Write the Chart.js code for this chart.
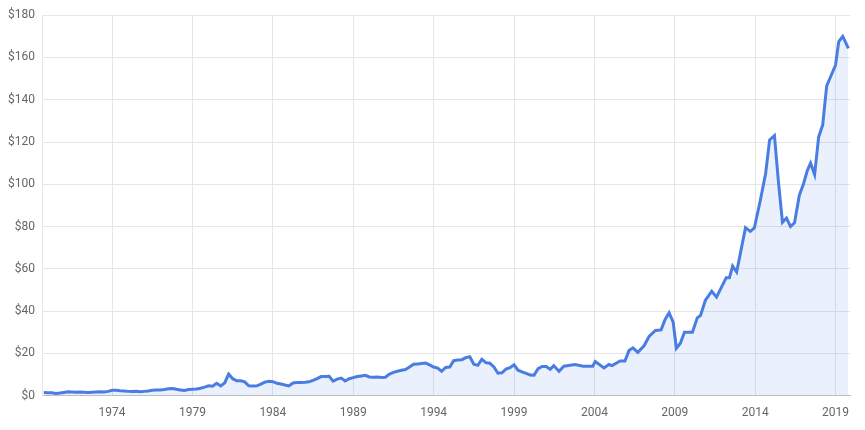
<!DOCTYPE html>
<html><head><meta charset="utf-8">
<script src="https://cdn.jsdelivr.net/npm/chart.js@4/dist/chart.umd.min.js"></script>
<style>html,body{margin:0;padding:0;background:#fff}#w{width:865px;height:430px}</style>
</head><body><div id="w"><canvas id="c"></canvas></div>
<script>
const years = [1969.75,
1970,1970.25,1970.5,1970.75,1971,1971.25,1971.5,1971.75,1972,1972.25,1972.5,1972.75,
1973,1973.25,1973.5,1973.75,1974,1974.25,1974.5,1974.75,1975,1975.25,1975.5,1975.75,
1976,1976.25,1976.5,1976.75,1977,1977.25,1977.5,1977.75,1978,1978.25,1978.5,1978.75,
1979,1979.25,1979.5,1979.75,1980,1980.25,1980.5,1980.75,1981,1981.25,1981.5,1981.75,
1982,1982.25,1982.5,1982.75,1983,1983.25,1983.5,1983.75,1984,1984.25,1984.5,1984.75,
1985,1985.25,1985.5,1985.75,1986,1986.25,1986.5,1986.75,1987,1987.25,1987.5,1987.75,
1988,1988.25,1988.5,1988.75,1989,1989.25,1989.5,1989.75,1990,1990.25,1990.5,1990.75,
1991,1991.25,1991.5,1991.75,1992,1992.25,1992.5,1992.75,1993,1993.25,1993.5,1993.75,
1994,1994.25,1994.5,1994.75,1995,1995.25,1995.5,1995.75,1996,1996.25,1996.5,1996.75,
1997,1997.25,1997.5,1997.75,1998,1998.25,1998.5,1998.75,1999,1999.25,1999.5,1999.75,
2000,2000.25,2000.5,2000.75,2001,2001.25,
2001.47,2001.8,2002.1,2002.8,2003.3,2003.9,2004.05,2004.6,2004.9,2005.1,2005.6,2005.9,
2006.15,2006.4,2006.7,2007.1,2007.4,2007.8,2008.15,2008.4,2008.65,2008.9,2009.1,2009.35,
2009.6,2010.1,2010.4,2010.6,2010.9,2011.3,2011.6,2012.2,2012.4,2012.6,2012.85,2013.1,
2013.4,2013.7,2013.95,2014.3,2014.65,2014.9,2015.2,2015.45,2015.7,2015.95,2016.2,2016.45,
2016.75,2017,2017.25,2017.45,2017.7,2017.95,2018.2,2018.45,2018.7,2019,2019.2,2019.45,2019.8];
const prices = [1.5,
1.4,1.3,1.0,1.2, 1.5,1.8,1.7,1.6, 1.7,1.6,1.5,1.6,
1.7,1.8,1.7,2.0, 2.5,2.5,2.3,2.2, 2.0,1.9,2.1,1.8,
2.0,2.2,2.5,2.6, 2.7,2.9,3.2,3.3, 3.0,2.7,2.4,2.9,
3.0,3.1,3.5,4.0, 4.6,4.4,5.8,4.6, 6.0,10.2,8.0,7.0,
7.0,6.5,4.6,4.5, 4.6,5.4,6.4,6.8, 6.6,5.8,5.5,5.0,
4.6,6.0,6.2,6.2, 6.3,6.5,7.2,8.0, 9.0,9.0,9.1,6.8,
7.8,8.3,6.9,8.0, 8.5,9.0,9.3,9.6, 8.8,8.7,8.8,8.6,
8.7,10.2,11.0,11.5, 12.0,12.3,13.5,14.8, 15.0,15.2,15.4,14.5,
13.5,13.0,11.5,13.3, 13.5,16.5,16.8,17.0, 18.0,18.4,14.8,14.3,
17.2,15.6,15.3,13.6, 10.6,10.8,12.5,13.2, 14.6,12.0,11.2,10.5,
9.8,9.7,12.8,13.8, 13.8,12.5,
14.2,11.5,13.9,14.7,13.9,13.9,16.1,13.1,14.7,14.2,16.4,16.4,
21.3,22.6,20.5,23.7,28,30.8,31.1,36,39.2,34.8,22.4,24.8,
30,30,36.8,37.9,45,49.4,46.6,55.8,55.8,61.3,58.5,68,
79.5,77.7,79.3,91.6,105,121,123,101,82,84,80,81.8,
94.8,100,106.6,110,104.6,122.4,128,146.6,151,156.4,167.5,170,164.3];
const yTicks = [0,20,40,60,80,100,120,140,160,180];
const xTicks = [1974,1979,1984,1989,1994,1999,2004,2009,2014,2019];

new Chart(document.getElementById('c'), {
  type: 'line',
  data: { datasets: [{
    data: years.map((y,i)=>({x:y,y:prices[i]})),
    borderColor: '#4a7de2', borderWidth: 3, backgroundColor: 'rgba(74,125,226,0.11)',
    fill: 'origin', pointRadius: 0, tension: 0
  }]},
  options: {
    responsive: true, maintainAspectRatio: false, animation: false,
    layout: { padding: { top: 2, right: 15, left: 0, bottom: 0 } },
    plugins: { legend: { display: false }, tooltip: { enabled: false } },
    scales: {
      x: { type: 'linear', min: 1969.7, max: 2019.9,
        afterBuildTicks: s => { s.ticks = xTicks.map(v=>({value:v})); },
        grid: { color: '#e6e6e6', drawTicks: false },
        border: { color: '#c0c0c0', width: 1 },
        ticks: { color: '#666', font: { family: 'Roboto, Arial', size: 12 }, padding: 10, maxRotation: 0, callback: v => String(v) } },
      y: { min: 0, max: 180,
        afterBuildTicks: s => { s.ticks = yTicks.map(v=>({value:v})); },
        grid: { color: '#e6e6e6', drawTicks: false },
        border: { color: '#e6e6e6' },
        ticks: { color: '#666', font: { family: 'Roboto, Arial', size: 12 }, padding: 8, callback: v => '$' + v } }
    }
  }
});
</script></body></html>
